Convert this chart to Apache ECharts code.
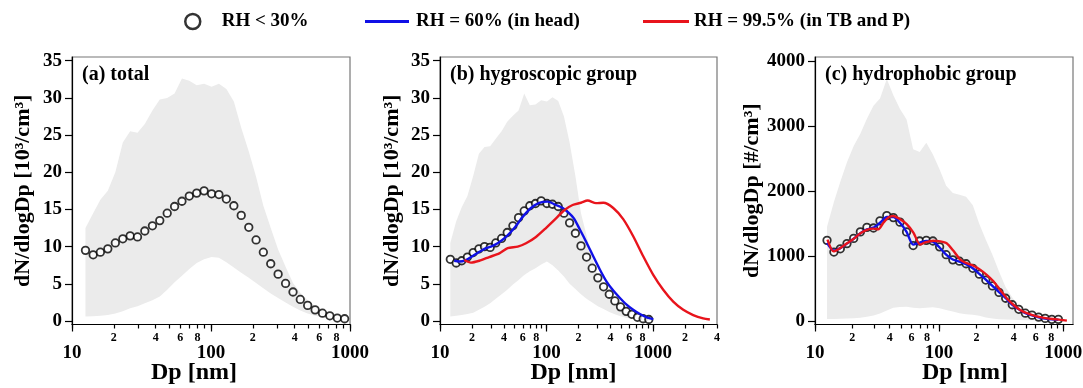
<!DOCTYPE html>
<html>
<head>
<meta charset="utf-8">
<script src="https://cdn.jsdelivr.net/npm/echarts@6/dist/echarts.min.js"></script>
<style>html,body{margin:0;background:#fff}#chart{width:1083px;height:388px}</style>
</head>
<body>
<div id="chart"></div>
<script>
// size bins (nm) shared by the measured distributions
const dpBins = [12.5, 14.2, 16.0, 18.1, 20.5, 23.2, 26.2, 29.6, 33.4, 37.9, 42.8, 48.4, 54.7, 61.8, 69.8, 78.9, 89.2, 101, 114, 129,
  146, 165, 187, 211, 238, 269, 304, 344, 389, 439, 496, 561, 634, 716, 810, 915];

// (a) total, 10^3/cm3
const aCircle = [9.5, 8.9, 9.25, 9.7, 10.5, 11.05, 11.45, 11.3, 12.1, 12.8, 13.5, 14.5, 15.4, 16.1, 16.8, 17.2, 17.5, 17.1, 17.0, 16.4,
  15.5, 14.2, 12.6, 10.9, 9.25, 7.7, 6.3, 5.05, 3.9, 2.9, 2.1, 1.5, 1.05, 0.7, 0.4, 0.3];
const aUpper = [12.5, 14.5, 16.3, 17.5, 20.0, 24.0, 25.5, 25.3, 26.5, 28.3, 29.8, 30.0, 30.6, 32.6, 32.3, 31.7, 31.9, 31.5, 31.9, 31.2,
  29.5, 26.0, 22.8, 19.4, 15.5, 12.5, 9.6, 7.3, 5.1, 3.8, 2.8, 2.0, 1.3, 0.8, 0.45, 0.25];
const aLower = [0.6, 0.65, 0.7, 0.8, 1.0, 1.3, 1.7, 2.0, 2.4, 2.8, 3.3, 4.2, 5.2, 6.1, 7.0, 7.8, 8.3, 8.6, 8.5, 7.9,
  7.2, 6.5, 5.8, 5.1, 4.4, 3.7, 3.1, 2.5, 1.9, 1.4, 1.0, 0.7, 0.5, 0.35, 0.25, 0.15];

// (b) hygroscopic group, 10^3/cm3
const bCircle = [8.3, 7.8, 8.1, 8.6, 9.2, 9.7, 10.0, 9.9, 10.5, 11.1, 11.9, 12.8, 13.9, 14.8, 15.5, 15.8, 16.15, 15.8, 15.7, 15.4,
  14.5, 13.2, 11.8, 10.1, 8.6, 7.1, 5.8, 4.6, 3.6, 2.7, 1.9, 1.3, 0.9, 0.5, 0.3, 0.2];
const bUpper = [10.5, 13.4, 15.3, 16.8, 19.5, 22.5, 23.4, 23.5, 24.5, 25.5, 26.8, 27.6, 28.3, 30.6, 29.0, 29.1, 29.7, 29.5, 30.1, 29.6,
  27.5, 24.0, 19.5, 14.5, 11.5, 8.5, 6.0, 4.2, 3.0, 2.2, 1.6, 1.1, 0.7, 0.45, 0.3, 0.15];
const bLower = [0.6, 0.7, 0.8, 0.95, 1.1, 1.5, 1.9, 2.4, 3.0, 3.6, 4.2, 4.9, 5.5, 6.2, 6.7, 7.1, 7.6, 8.0, 7.5, 6.8,
  6.0, 5.0, 4.3, 3.6, 3.0, 2.5, 2.0, 1.6, 1.2, 0.9, 0.65, 0.45, 0.3, 0.2, 0.15, 0.1];
const bBlueDp = [13.6, 15.2, 17.5, 20.3, 23.4, 27.0, 30.1, 34.8, 41.7, 49.9, 59.8, 71.5, 85.6, 103, 123, 142, 179, 206, 239, 275,
  318, 367, 424, 490, 566, 653, 755, 873, 1007];
const bBlueVal = [8.1, 8.0, 8.2, 8.75, 9.3, 9.8, 10.0, 10.45, 11.3, 12.5, 14.0, 15.2, 15.9, 16.05, 15.6, 15.2, 13.9, 12.3, 10.5, 8.7,
  6.9, 5.3, 4.1, 3.1, 2.2, 1.5, 0.95, 0.5, 0.25];
const bRedDp = [16.9, 19.5, 23.4, 29.0, 36.1, 43.2, 53.7, 64.3, 79.7, 98.9, 123, 147, 176, 211, 244, 292, 342, 424, 526, 653,
  811, 1007, 1250, 1552, 1928, 2390, 2967, 3427];
const bRedVal = [8.2, 7.85, 8.1, 8.6, 9.1, 9.8, 10.0, 10.45, 11.3, 12.5, 13.8, 14.9, 15.6, 15.9, 16.2, 15.85, 15.9, 15.2, 13.7, 11.4,
  8.7, 6.2, 4.2, 2.6, 1.5, 0.8, 0.35, 0.2];

// (c) hydrophobic group, #/cm3
const cCircle = [1240, 1060, 1110, 1190, 1270, 1370, 1440, 1430, 1540, 1620, 1590, 1520, 1370, 1160, 1230, 1240, 1230, 1140, 1020, 940,
  920, 880, 810, 720, 630, 540, 440, 350, 250, 180, 120, 90, 60, 40, 25, 25];
const cBlue = [1200, 1080, 1120, 1190, 1265, 1350, 1410, 1435, 1510, 1600, 1600, 1510, 1370, 1175, 1205, 1230, 1220, 1130, 1020, 945,
  915, 875, 810, 725, 635, 540, 445, 350, 250, 180, 120, 88, 58, 38, 26, 20];
const cUpper = [1450, 1830, 2140, 2440, 2690, 2880, 3110, 3310, 3420, 3720, 3470, 3260, 3100, 2640, 2600, 2740, 2560, 2330, 2080, 1970,
  1940, 1910, 1780, 1490, 1250, 1020, 760, 520, 360, 220, 130, 80, 45, 30, 20, 15];
const cLower = [30, 32, 35, 38, 42, 50, 65, 85, 115, 160, 205, 215, 220, 205, 195, 205, 210, 195, 170, 145,
  120, 105, 95, 80, 55, 40, 28, 22, 18, 15, 12, 10, 8, 6, 5, 5];
const cRedDp = [12.6, 14.1, 15.9, 18.0, 20.4, 23.1, 26.1, 29.5, 32.4, 35.6, 39.0, 42.8, 48.5, 54.8, 62.1, 70.3, 77.1, 90.0, 102, 115,
  131, 148, 167, 189, 214, 242, 274, 310, 351, 397, 450, 509, 613, 738, 889, 1071];
const cRedVal = [1250, 1070, 1120, 1190, 1260, 1345, 1400, 1420, 1410, 1510, 1590, 1615, 1565, 1490, 1360, 1175, 1210, 1235, 1225, 1195,
  1075, 945, 890, 850, 790, 710, 610, 480, 350, 250, 170, 120, 70, 40, 25, 5];

// axis ticks
const xTicks1000 = [10, 20, 30, 40, 50, 60, 70, 80, 90, 100, 200, 300, 400, 500, 600, 700, 800, 900, 1000];
const xTicks4000 = xTicks1000.concat([2000, 3000, 4000]);
const xMinorLabels1000 = [20, 40, 60, 80, 200, 400, 600, 800];
const xMinorLabels4000 = xMinorLabels1000.concat([2000, 4000]);
const xMajorLabels = [10, 100, 1000];
const yTicks35 = [0, 5, 10, 15, 20, 25, 30, 35];
const yTicks4000 = [0, 1000, 2000, 3000, 4000];

const FONT = 'Liberation Serif';
const BLUE = '#1010e6';
const RED = '#e8141c';
const BAND = '#ebebeb';
const lg = Math.log10;
const txt = (size) => ({ fontFamily: FONT, fontWeight: 'bold', fontSize: size, color: '#000' });

const PANELS = [
  { grid: { left: 72, top: 57, width: 278, height: 267.5 }, maxDp: 1000, ticks: xTicks1000, minor: xMinorLabels1000,
    yMin: -0.47, yMax: 35.5, yTicks: yTicks35, yName: 'dN/dlogDp [10³/cm³]', yGap: 38, title: '(a) total',
    xNamePad: [0, 34, 0, 0] },
  { grid: { left: 440, top: 57, width: 277, height: 267.5 }, maxDp: 4000, ticks: xTicks4000, minor: xMinorLabels4000,
    yMin: -0.47, yMax: 35.5, yTicks: yTicks35, yName: 'dN/dlogDp [10³/cm³]', yGap: 37, title: '(b) hygroscopic group',
    xNamePad: [0, 10, 0, 0] },
  { grid: { left: 815, top: 57, width: 258, height: 267.5 }, maxDp: 1200, ticks: xTicks1000, minor: xMinorLabels1000,
    yMin: -54, yMax: 4060, yTicks: yTicks4000, yName: 'dN/dlogDp [#/cm³]', yGap: 52, title: '(c) hydrophobic group',
    xNamePad: [0, 0, 0, 42] },
];

const xAxis = [];
const yAxis = [];
PANELS.forEach((p, i) => {
  const base = { type: 'value', gridIndex: i, min: 1, max: lg(p.maxDp), position: 'bottom', splitLine: { show: false } };
  xAxis.push({
    ...base,
    axisLine: { show: true, onZero: false, lineStyle: { color: '#000', width: 1.2 } },
    axisTick: { show: true, customValues: p.ticks.map(lg), length: 4, lineStyle: { color: '#000', width: 1.2 } },
    axisLabel: { customValues: p.minor.map(lg), margin: 7, ...txt(12),
      formatter: (v) => String(Math.round(Math.pow(10, v))).charAt(0) },
  });
  xAxis.push({
    ...base,
    axisLine: { show: false, onZero: false },
    axisTick: { show: true, customValues: xMajorLabels.map(lg), length: 7, lineStyle: { color: '#000', width: 1.2 } },
    axisLabel: { customValues: xMajorLabels.map(lg), margin: 19, ...txt(19),
      formatter: (v) => String(Math.round(Math.pow(10, v))) },
    name: 'Dp [nm]', nameLocation: 'middle', nameGap: 36, nameMoveOverlap: false,
    nameTextStyle: { ...txt(24), padding: p.xNamePad },
  });
  yAxis.push({
    type: 'value', gridIndex: i, min: p.yMin, max: p.yMax, splitLine: { show: false },
    axisLine: { show: true, onZero: false, lineStyle: { color: '#000', width: 1.2 } },
    axisTick: { show: true, customValues: p.yTicks, length: 7, lineStyle: { color: '#000', width: 1.2 } },
    axisLabel: { customValues: p.yTicks, margin: 10, ...txt(19), formatter: (v) => String(v) },
    name: p.yName, nameLocation: 'middle', nameGap: p.yGap, nameTextStyle: txt(22),
  });
});

function band(i, dp, lo, hi) {
  return {
    type: 'custom', xAxisIndex: 2 * i, yAxisIndex: i, silent: true, z: 1,
    data: dp.map((d, k) => [lg(d), lo[k], hi[k]]),
    encode: { x: 0, y: [1, 2] },
    renderItem: (params, api) => {
      if (params.dataIndex !== 0) return null;
      const top = dp.map((d, k) => api.coord([lg(d), hi[k]]));
      const bot = dp.map((d, k) => api.coord([lg(d), lo[k]])).reverse();
      return { type: 'polygon', shape: { points: top.concat(bot) }, style: { fill: BAND } };
    },
  };
}

function circles(i, dp, vals) {
  return {
    type: 'scatter', name: 'RH < 30%', xAxisIndex: 2 * i, yAxisIndex: i, z: 3,
    data: dp.map((d, k) => [lg(d), vals[k]]),
    symbol: 'circle', symbolSize: 7.5,
    itemStyle: { color: '#fff', borderColor: '#000', borderWidth: 1.8 },
  };
}

function curve(i, name, color, dp, vals, z) {
  return {
    type: 'line', name, xAxisIndex: 2 * i, yAxisIndex: i, z,
    data: dp.map((d, k) => [lg(d), vals[k]]),
    symbol: 'none', smooth: 0.25,
    lineStyle: { color, width: 2.4 }, itemStyle: { color },
  };
}

const series = [
  band(0, dpBins, aLower, aUpper),
  circles(0, dpBins, aCircle),
  band(1, dpBins, bLower, bUpper),
  circles(1, dpBins, bCircle),
  curve(1, 'RH = 60% (in head)', BLUE, bBlueDp, bBlueVal, 4),
  curve(1, 'RH = 99.5% (in TB and P)', RED, bRedDp, bRedVal, 5),
  band(2, dpBins, cLower, cUpper),
  circles(2, dpBins, cCircle),
  curve(2, 'RH = 60% (in head)', BLUE, dpBins, cBlue, 4),
  curve(2, 'RH = 99.5% (in TB and P)', RED, cRedDp, cRedVal, 5),
];

const legendBase = { top: 12, selectedMode: false, padding: 0, textStyle: txt(19) };

const chart = echarts.init(document.getElementById('chart'));
chart.setOption({
  animation: false,
  backgroundColor: '#fff',
  grid: PANELS.map((p) => ({ ...p.grid, outerBoundsMode: 'none', containLabel: false, show: true,
    borderColor: '#777', borderWidth: 1.2, backgroundColor: 'transparent' })),
  title: PANELS.map((p) => ({ text: p.title, left: p.grid.left + 10, top: 65, padding: 0, textStyle: txt(20) })),
  legend: [
    { ...legendBase, left: 184, itemWidth: 16, itemHeight: 15, data: ['RH < 30%'],
      itemStyle: { borderWidth: 2.5 }, textStyle: { ...txt(19), padding: [0, 0, 0, 16] } },
    { ...legendBase, left: 365, itemWidth: 44, itemHeight: 3, icon: 'rect', data: ['RH = 60% (in head)'],
      textStyle: { ...txt(19), padding: [0, 0, 0, 2] } },
    { ...legendBase, left: 643, itemWidth: 46, itemHeight: 3, icon: 'rect', data: ['RH = 99.5% (in TB and P)'] },
  ],
  xAxis,
  yAxis,
  series,
});
</script>
</body>
</html>
